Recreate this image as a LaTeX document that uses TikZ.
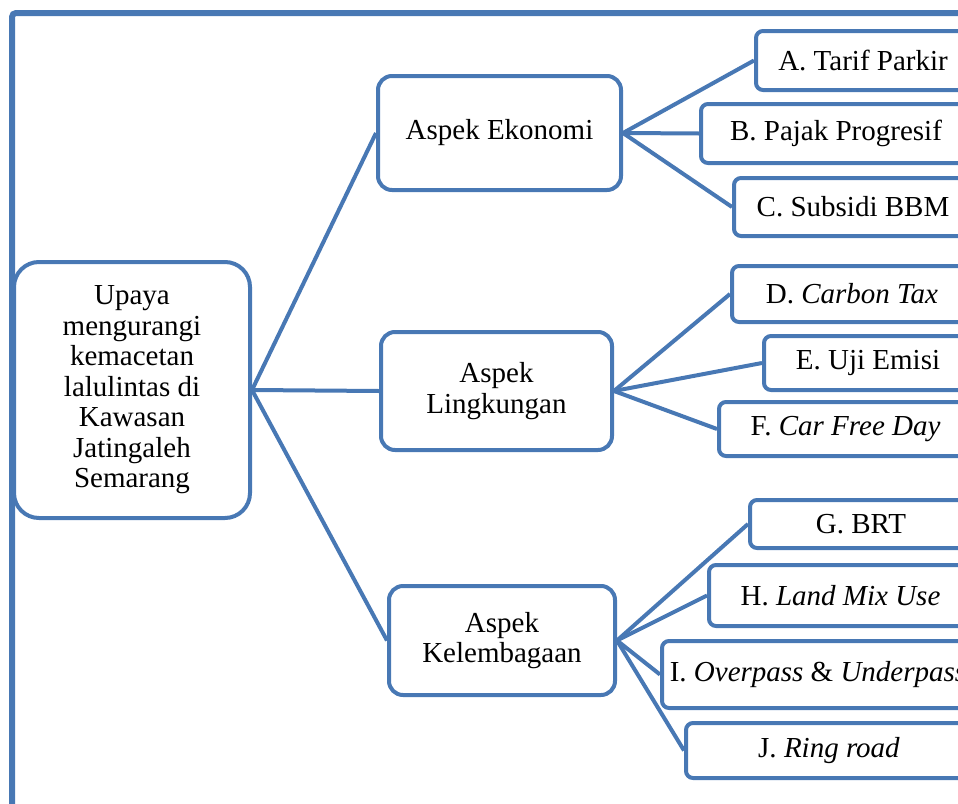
\documentclass[tikz,border=0pt]{standalone}
\usepackage{fontspec}
\setmainfont{Liberation Serif}
\definecolor{boxblue}{RGB}{72,120,180}
\begin{document}
\begin{tikzpicture}[x=1pt,y=-1pt,
        every node/.style={font=\fontsize{29}{30.5}\selectfont},
        mainbox/.style={draw=boxblue,line width=4pt,rounded corners=25pt,align=center,inner sep=0pt},
        aspek/.style={draw=boxblue,line width=4pt,rounded corners=14pt,align=center,inner sep=0pt},
        leaf/.style={draw=boxblue,line width=4pt,rounded corners=7pt,anchor=west,inner sep=0pt},
        link/.style={draw=boxblue,line width=4pt}]
        \useasboundingbox (0,0) rectangle (958,803);
        \clip (0,0) rectangle (958,803);
        % frame
        \draw[boxblue,line width=6pt,rounded corners=4pt] (12,810) -- (12,13) -- (965,13);
        % root
        \node[mainbox,minimum width=236pt,minimum height=256pt] (root) at (132,390)
                {Upaya\\mengurangi\\kemacetan\\lalulintas di\\Kawasan\\Jatingaleh\\Semarang};
        % aspects
        \node[aspek,minimum width=243pt,minimum height=114pt] (eko) at (499.5,133) {Aspek Ekonomi};
        \node[aspek,minimum width=231pt,minimum height=118pt] (ling) at (496.5,391) {Aspek\\Lingkungan};
        \node[aspek,minimum width=226pt,minimum height=109pt] (lemb) at (502,640.5) {Aspek\\Kelembagaan};
        \draw[link] (root.east) -- (eko.west);
        \draw[link] (root.east) -- (ling.west);
        \draw[link] (root.east) -- (lemb.west);
        % ekonomi
        \node[leaf,minimum width=214pt,minimum height=59pt] (a) at (754,60.5) {A. Tarif Parkir};
        \node[leaf,minimum width=270pt,minimum height=59pt] (b) at (699,133.5) {B. Pajak Progresif};
        \node[leaf,minimum width=238pt,minimum height=58pt] (c) at (732,207) {C. Subsidi BBM};
        \draw[link] (eko.east) -- (a.west);
        \draw[link] (eko.east) -- (b.west);
        \draw[link] (eko.east) -- (c.west);
        % lingkungan
        \node[leaf,minimum width=240pt,minimum height=56pt] (d) at (730,294) {D. \textit{Carbon Tax}};
        \node[leaf,minimum width=208pt,minimum height=54pt] (e) at (762,363) {E. Uji Emisi};
        \node[leaf,minimum width=253pt,minimum height=54pt] (f) at (717,429) {F. \textit{Car Free Day}};
        \draw[link] (ling.east) -- (d.west);
        \draw[link] (ling.east) -- (e.west);
        \draw[link] (ling.east) -- (f.west);
        % kelembagaan
        \node[leaf,minimum width=222pt,minimum height=48pt] (g) at (748,524) {G. BRT};
        \node[leaf,minimum width=263pt,minimum height=61pt] (h) at (707,595.5) {H. \textit{Land Mix Use}};
        \node[leaf,minimum width=312pt,minimum height=67pt] (i) at (660,674.5) {I. \textit{Overpass} \& \textit{Underpass}};
        \node[leaf,minimum width=286pt,minimum height=55pt] (j) at (684,750.5) {J. \textit{Ring road}};
        \draw[link] (lemb.east) -- (g.west);
        \draw[link] (lemb.east) -- (h.west);
        \draw[link] (lemb.east) -- (i.west);
        \draw[link] (lemb.east) -- (j.west);
\end{tikzpicture}
\end{document}
